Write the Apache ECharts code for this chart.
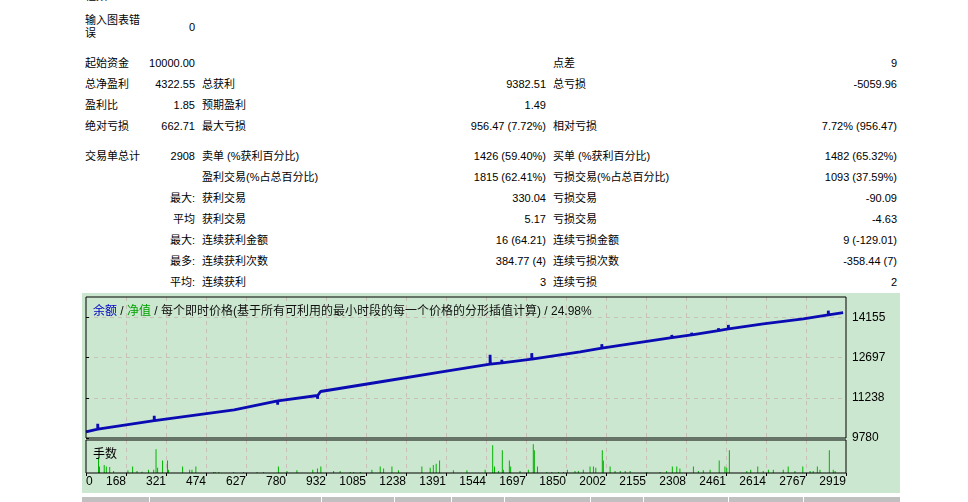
<html>
<head>
<meta charset="utf-8">
<title>Strategy Tester Report</title>
<style>
  body { margin:0; background:#fff; }
  #page { position:absolute; left:0; top:0; width:968px; height:502px; overflow:hidden;
          font-family:"Liberation Sans","Noto Sans CJK SC",sans-serif; font-size:11px; color:#000; }
  .t { position:absolute; white-space:nowrap; line-height:14px; height:14px; }
  .r { text-align:right; }
  #chart { position:absolute; left:82px; top:293px; width:818px; height:200px; }
  .cell { position:absolute; top:497px; height:6px; background:#c0c0c0; }
</style>
<script src="https://cdn.jsdelivr.net/npm/echarts/dist/echarts.min.js"></script>
</head>
<body>
<div id="page">
  <div id="chart"></div>
</div>
<script>

// 报表文字
var topRows = [
    ['起始资金', '10000.00', '', '', '点差', '9'],
    ['总净盈利', '4322.55', '总获利', '9382.51', '总亏损', '-5059.96'],
    ['盈利比', '1.85', '预期盈利', '1.49', '', ''],
    ['绝对亏损', '662.71', '最大亏损', '956.47 (7.72%)', '相对亏损', '7.72% (956.47)']
];
var tradeRows = [
    ['交易单总计', '2908', '卖单 (%获利百分比)', '1426 (59.40%)', '买单 (%获利百分比)', '1482 (65.32%)'],
    ['', '', '盈利交易(%占总百分比)', '1815 (62.41%)', '亏损交易(%占总百分比)', '1093 (37.59%)'],
    ['', '最大:', '获利交易', '330.04', '亏损交易', '-90.09'],
    ['', '平均', '获利交易', '5.17', '亏损交易', '-4.63'],
    ['', '最大:', '连续获利金额', '16 (64.21)', '连续亏损金额', '9 (-129.01)'],
    ['', '最多:', '连续获利次数', '384.77 (4)', '连续亏损次数', '-358.44 (7)'],
    ['', '平均:', '连续获利', '3', '连续亏损', '2']
];

// 图表数据：余额(按交易序号)
var balTrades = [0, 45, 45, 46, 262, 262, 263, 569, 736, 736, 737, 889, 889, 890, 901,
    1139, 1360, 1552, 1552, 1553, 1597, 1597, 1598, 1712, 1712, 1713, 1898, 1981, 1981, 1982,
    2045, 2250, 2250, 2251, 2326, 2326, 2327, 2429, 2429, 2430, 2467, 2467, 2468, 2601, 2755,
    2851, 2851, 2852, 2908];
var balValues = [10000, 10105, 10297, 10105, 10406, 10586, 10406, 10803, 11129, 10984, 11129, 11320, 11201, 11320, 11465,
    11827, 12167, 12456, 12792, 12456, 12503, 12611, 12503, 12637, 12854, 12637, 12901, 13034, 13179, 13034,
    13128, 13418, 13515, 13418, 13515, 13598, 13515, 13671, 13758, 13671, 13732, 13877, 13732, 13913, 14094,
    14239, 14394, 14239, 14322.55];

// 手数
var volTrades = [48, 52, 70, 78, 91, 106, 161, 179, 196, 215, 240, 260, 269, 275, 294, 313, 317, 371, 398, 407, 422,
    490, 496, 510, 567, 605, 657, 682, 739, 772, 810, 871, 889, 902, 951, 976, 1015, 1028, 1054,
    1098, 1130, 1143, 1175, 1200, 1290, 1322, 1334, 1345, 1358, 1411, 1463, 1533, 1562, 1569,
    1584, 1599, 1603, 1626, 1631, 1667, 1699, 1718, 1722, 1734, 1770, 1789, 1815, 1834, 1849,
    1878, 1891, 1910, 1936, 1949, 1958, 1983, 1987, 2013, 2032, 2052, 2071, 2090, 2154, 2205,
    2230, 2252, 2269, 2281, 2333, 2352, 2371, 2397, 2432, 2454, 2461, 2471, 2538, 2553, 2580,
    2601, 2621, 2640, 2678, 2697, 2723, 2753, 2781, 2793, 2809, 2819, 2855, 2870, 2877];
var volLots = [0.48, 0.2, 0.24, 0.2, 0.18, 0.06, 0.08, 0.2, 0.06, 0.04, 0.1, 0.1, 0.72, 0.16, 0.38, 0.38, 0.1, 0.2, 0.1, 0.1, 0.2,
    0.03, 0.03, 0.03, 0.03, 0.03, 0.03, 0.03, 0.2, 0.06, 0.08, 0.1, 0.14, 0.2, 0.06, 0.06, 0.03, 0.03, 0.03,
    0.1, 0.2, 0.14, 0.2, 0.08, 0.2, 0.16, 0.24, 0.28, 0.38, 0.08, 0.08, 0.1, 0.84, 0.2,
    0.06, 0.69, 0.1, 0.38, 0.2, 0.06, 0.1, 0.87, 0.69, 0.2, 0.03, 0.03, 0.03, 0.03, 0.1,
    0.06, 0.06, 0.1, 0.2, 0.2, 0.16, 0.69, 0.38, 0.2, 0.06, 0.06, 0.06, 0.06, 0.03, 0.03,
    0.06, 0.2, 0.2, 0.14, 0.2, 0.06, 0.08, 0.1, 0.38, 0.2, 0.16, 0.69, 0.06, 0.1, 0.2,
    0.06, 0.1, 0.1, 0.1, 0.2, 0.06, 0.2, 0.06, 0.06, 0.2, 0.1, 0.69, 0.1, 0.06];

// 坐标轴刻度
var xLabels = ['0', '168', '321', '474', '627', '780', '932', '1085', '1238', '1391', '1544',
    '1697', '1850', '2002', '2155', '2308', '2461', '2614', '2767', '2919'];
var yBase = 9780, yStep = 1458.333, yTop = 14889;

var lastTrade = 2919;
function tx(t) { return t * (xLabels.length - 1) / lastTrade; }

// ---------- 文字表格 ----------
var page = document.getElementById('page');
function put(txt, x, cy, right) {
    if (!txt) return;
    var d = document.createElement('div');
    d.className = 't' + (right ? ' r' : '');
    d.textContent = txt;
    d.style.top = (cy - 7) + 'px';
    if (right) { d.style.left = (x - 200) + 'px'; d.style.width = '200px'; }
    else d.style.left = x + 'px';
    page.appendChild(d);
}
var cols = [[85, false], [195, true], [202, false], [546, true], [553, false], [897, true]];
function putRow(row, cy) {
    row.forEach(function(txt, i) { put(txt, cols[i][0], cy, cols[i][1]); });
}
put('柱数', 85, -4, false);
put('输入图表错', 85, 20, false);
put('误', 85, 33, false);
put('0', 195, 27, true);
topRows.forEach(function(r, i) { putRow(r, 63 + i * 21.1); });
tradeRows.forEach(function(r, i) { putRow(r, 156 + i * 21.05); });

// 下方灰色表头
var cellEdges = [82, 149, 321, 394, 451, 504, 590, 643, 728, 803, 900];
for (var i = 0; i < cellEdges.length - 1; i++) {
    var c = document.createElement('div');
    c.className = 'cell';
    c.style.left = (cellEdges[i] + (i ? 1 : 0)) + 'px';
    c.style.width = (cellEdges[i + 1] - cellEdges[i] - (i ? 1 : 0)) + 'px';
    page.appendChild(c);
}

// ---------- 图表 ----------
var myChart = echarts.init(document.getElementById('chart'));
var font = '"Liberation Sans","Noto Sans CJK SC",sans-serif';
var dash = { color: '#c9c0b8', type: [4, 4], width: 1 };

var option = {
    animation: false,
    backgroundColor: '#cce7cf',
    textStyle: { fontFamily: font },
    title: [{
        text: '{b|余额} / {g|净值} / 每个即时价格(基于所有可利用的最小时段的每一个价格的分形插值计算) / 24.98%',
        left: 6, top: 8,
        textStyle: {
            fontSize: 12, fontWeight: 'normal', color: '#101010', fontFamily: font,
            rich: {
                b: { color: '#0000c8', fontSize: 12, fontFamily: font },
                g: { color: '#00a000', fontSize: 12, fontFamily: font }
            }
        }
    }, {
        text: '手数', left: 6, top: 151,
        textStyle: { fontSize: 12, fontWeight: 'normal', color: '#000', fontFamily: font }
    }],
    grid: [
        { left: 4, right: 54, top: 4, height: 141, show: true, borderColor: '#000', borderWidth: 1, z: 5 },
        { left: 4, right: 54, top: 147, height: 33, show: true, borderColor: '#000', borderWidth: 1, z: 5 }
    ],
    xAxis: [{
        gridIndex: 0, type: 'value', min: 0, max: xLabels.length - 1, interval: 1,
        axisLabel: { show: false }, axisTick: { show: false }, axisLine: { show: false },
        splitLine: { show: true, showMinLine: false, showMaxLine: false, lineStyle: dash }
    }, {
        gridIndex: 1, type: 'value', min: 0, max: xLabels.length - 1, interval: 1,
        axisLine: { show: false },
        axisTick: { show: true, length: 3, lineStyle: { color: '#000' } },
        splitLine: { show: true, showMinLine: false, showMaxLine: false, lineStyle: dash },
        axisLabel: {
            color: '#000', fontSize: 12, fontFamily: font, margin: 3,
            align: 'right', alignMinLabel: 'left', hideOverlap: false,
            formatter: function(v) { return xLabels[Math.round(v)]; }
        }
    }],
    yAxis: [{
        gridIndex: 0, type: 'value', position: 'right',
        min: 0, max: yTop - yBase, interval: yStep,
        axisLine: { show: false },
        axisTick: { show: true, length: 3, lineStyle: { color: '#000' } },
        splitLine: { show: true, showMinLine: false, showMaxLine: false, lineStyle: dash },
        axisLabel: {
            color: '#000', fontSize: 12, fontFamily: font, margin: 6, showMaxLabel: false,
            formatter: function(v) { return v > yTop - yBase - 1 ? '' : Math.round(v + yBase); }
        }
    }, {
        gridIndex: 1, type: 'value', min: 0, max: 1,
        axisLabel: { show: false }, axisTick: { show: false }, axisLine: { show: false },
        splitLine: { show: false }
    }],
    series: [{
        name: '余额', type: 'line', xAxisIndex: 0, yAxisIndex: 0,
        showSymbol: false, symbol: 'none',
        lineStyle: { color: '#0b0bb4', width: 2.8 },
        data: balTrades.map(function(t, i) { return [tx(t), balValues[i] - yBase]; })
    }, {
        name: '手数', type: 'bar', xAxisIndex: 1, yAxisIndex: 1,
        barWidth: 1, itemStyle: { color: '#00b400' },
        data: volTrades.map(function(t, i) { return [tx(t), volLots[i]]; })
    }]
};
myChart.setOption(option);
</script>
</body>
</html>
